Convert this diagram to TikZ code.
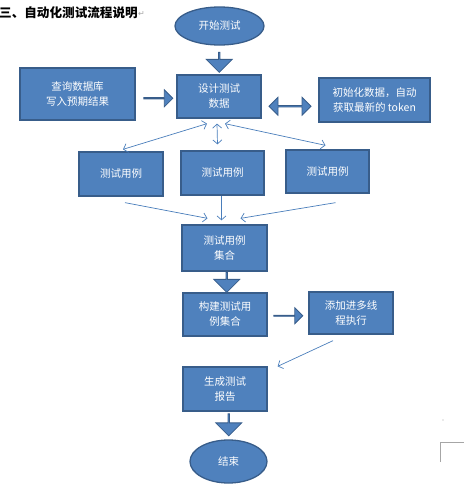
\documentclass[tikz,border=0pt]{standalone}
\usepackage{fontspec}
\newfontfamily\cjk{Noto Sans CJK SC}
\newfontfamily\symfont{DejaVu Sans}
\usepackage{tikz}
\usetikzlibrary{positioning,calc,arrows.meta,shapes.geometric,shapes.arrows}
\definecolor{boxblue}{HTML}{4F81BD}
\definecolor{boxline}{HTML}{385D8A}
\definecolor{linkblue}{HTML}{4A7EBB}
\definecolor{markgray}{HTML}{A6A6A6}
\begin{document}
\begin{tikzpicture}[x=1pt, y=-1pt, >={Straight Barb[length=4pt,width=9pt]},
  box/.style = {rectangle, draw=boxline, fill=boxblue, line width=1.3pt, text=white, align=center, inner sep=0pt, font=\cjk\fontsize{10.5}{15}\selectfont},
  oval/.style = {ellipse, draw=boxline, fill=boxblue, line width=1.3pt, text=white, inner sep=0pt, font=\cjk\fontsize{10.5}{15}\selectfont},
  fat/.style = {single arrow, draw=boxline, fill=boxblue, line width=0.8pt, inner sep=0pt, minimum width=26pt, single arrow head extend=7pt},
  link/.style = {draw=linkblue, line width=0.7pt}]

\useasboundingbox (0,0) rectangle (464,488);

% heading
\node[anchor=west, inner sep=0pt, font=\cjk\bfseries\fontsize{12.6}{14}\selectfont] (title) at (-1,13) {三、自动化测试流程说明};
\node[anchor=west, inner sep=0pt, text=markgray, font=\symfont\fontsize{8}{9}\selectfont] (pmark) at ($(title.east)+(0,1)$) {↵};

% nodes
\node[oval, minimum width=89pt, minimum height=38pt] (start) at (219.5,26) {开始测试};
\node[box, minimum width=84pt, minimum height=43pt] (design) at (219,96.5) {设计测试\\数据};
\node[box, minimum width=115pt, minimum height=52pt] (query) at (77.5,94) {查询数据库\\写入预期结果};
\node[box, minimum width=111pt, minimum height=44pt] (init) at (374.5,100) {初始化数据，自动\\获取最新的 token};
\node[box, minimum width=84pt, minimum height=44pt] (caseA) at (121,174) {测试用例};
\node[box, minimum width=83pt, minimum height=44pt] (caseB) at (222.5,173) {测试用例};
\node[box, minimum width=83pt, minimum height=43pt] (caseC) at (327.5,171.5) {测试用例};
\node[box, minimum width=85pt, minimum height=46pt] (suite) at (224.5,248) {测试用例\\集合};
\node[box, minimum width=84pt, minimum height=43pt] (build) at (225,314.5) {构建测试用\\例集合};
\node[box, minimum width=84pt, minimum height=42pt] (thread) at (351,313) {添加进多线\\程执行};
\node[box, minimum width=84pt, minimum height=44pt] (report) at (225,389) {生成测试\\报告};
\node[oval, minimum width=77pt, minimum height=43pt] (stop) at (228.5,461.5) {结束};

% block arrows
\node[fat, shape border rotate=270, minimum height=20pt] (downA) at ($(start.south)!0.5!(design.north)+(0,2)$) {};
\node[fat, minimum height=29pt, minimum width=17pt, single arrow head extend=5pt] (toDesign) at ($(query.east)!0.5!(design.west)+(2,3)$) {};
\node[double arrow, draw=boxline, fill=boxblue, line width=0.8pt, inner sep=0pt, minimum height=42pt, minimum width=18pt, double arrow head extend=5pt] (swap) at ($(design.east)!0.5!(init.west)+(0,8)$) {};
\node[fat, shape border rotate=270, minimum height=20pt] (downB) at ($(suite.south)!0.5!(build.north)+(2,0)$) {};
\node[fat, minimum height=29pt, minimum width=16pt, single arrow head extend=5pt] (toThread) at ($(build.east)!0.5!(thread.west)+(0,2)$) {};
\node[fat, shape border rotate=270, minimum height=22pt] (downC) at ($(report.south)!0.5!(stop.north)+(2,-1)$) {};

% thin connectors
\path[link]
    ($(design.south)+(-12,5)$) edge[<->] ($(caseA.north)+(2,-2)$)
    ($(design.south)+(-2,5)$) edge[<->] ($(caseB.north)+(-5,-6)$)
    ($(design.south)+(6,5)$) edge[<->] ($(caseC.north)+(-2,-4)$)
    ($(caseA.south)+(4,6)$) edge[->] ($(suite.north)+(-17,-6)$)
    ($(caseB.south)+(-1,0)$) edge[->] ($(suite.north)+(-3,-4)$)
    ($(caseC.south)+(8,9)$) edge[->] ($(suite.north)+(16,-6)$)
    ($(thread.south)+(-18,6)$) edge[->] ($(report.north east)+(10,0)$);

% page corner marks
\fill[markgray] (443,420) circle (0.7);
\draw[markgray, line width=0.6pt] (440,462) -- (440,442) -- (464,442);
\end{tikzpicture}
\end{document}
